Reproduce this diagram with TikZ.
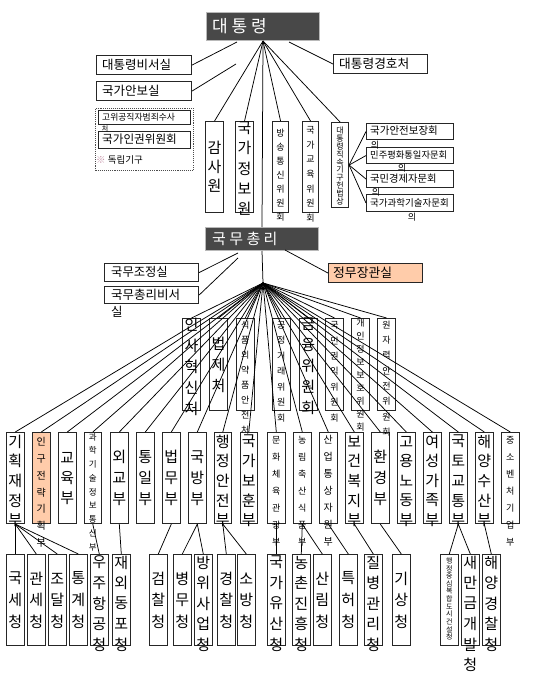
\documentclass[tikz,border=0pt]{standalone}
\usepackage{fontspec}
\setmainfont{Noto Sans CJK KR}
\definecolor{darkbox}{RGB}{72,72,72}
\definecolor{salmon}{RGB}{255,204,170}
\definecolor{refmark}{RGB}{200,150,170}
\newcommand\bx[6][]{\node[box,anchor=north west,minimum width={#5-#3},minimum height={#6-#4},#1] (#2) at (#3,#4) {};}
% top-aligned vertical text: name, style, first offset from top, pitch, list
\newcommand\VT[5]{\foreach \vch [count=\i from 0] in {#5}{\path (#1.north) ++(0,{#3+\i*#4}) node[#2] (#1-t\i) {\vch};}}
% centred vertical text: name, style, pitch, count, list
\newcommand\VC[5]{\foreach \vch [count=\i from 0] in {#5}{\path (#1.center) ++(0,{(\i-(#4-1)/2)*#3}) node[#2] (#1-t\i) {\vch};}}
\begin{document}
\begin{tikzpicture}[x=1pt,y=-1pt,
  box/.style={draw=black!85,line width=1.1pt,inner sep=0pt},
  dark/.style={draw=gray!55,line width=1pt,fill=darkbox},
  conn/.style={draw=black,line width=0.75pt},
  big/.style={font=\fontsize{15}{15}\selectfont,inner sep=0pt},
  sm/.style={font=\fontsize{9}{9}\selectfont,inner sep=0pt},
  fs/.style={font=\fontsize{#1}{#1}\selectfont,inner sep=0pt},
  hl/.style={font=\fontsize{#1}{#1}\selectfont,inner sep=0pt,anchor=west}]
\useasboundingbox[fill=white] (0,0) rectangle (539,695);

% ---------- President level ----------
\bx[dark]{dt}{206}{12}{319}{40}
\node[hl=17,text=white] (dtt) at (212,26) {대 통 령};
\bx{bs}{96}{55}{191}{74}
\node[hl=12.5] (bst) at (102,64.5) {대통령비서실};
\bx{ab}{96}{81}{191}{100}
\node[hl=12.5] (abt) at (102,90.5) {국가안보실};
\bx{gh}{333}{54}{427}{73}
\node[hl=12.7] (ght) at (339,63.5) {대통령경호처};

\bx{gsw}{205}{121}{223}{212}
\bx{gjw}{235}{121}{253}{212}
\bx{bt}{272}{121}{288}{212}
\bx{gg}{302}{121}{318}{212}
\bx{dj}{331}{122}{348}{207}

\bx{c1}{366}{123}{453}{139}
\bx{c2}{366}{147}{453}{163}
\bx{c3}{366}{170}{453}{187}
\bx{c4}{366}{194}{453}{211}

\bx[draw=black!70,densely dotted,line width=1pt]{grp}{95}{108}{193}{170}
\bx{gc}{98}{110}{190}{124}
\bx{ig}{98}{131}{190}{148}

% ---------- Prime minister level ----------
\bx[dark]{nm}{205}{227}{318}{250}
\node[hl=15,text=white] (nmt) at (212,238.5) {국 무 총 리};
\bx{nj}{104}{263}{198}{281}
\bx{nb}{104}{286}{198}{303}
\bx[fill=salmon]{jm}{328}{263}{422}{282}

% middle row
\bx{m1}{182}{318}{200}{410}
\bx{m2}{209}{318}{227}{410}
\bx{m3}{236}{318}{253.5}{410}
\bx{m4}{272}{318}{289.5}{410}
\bx{m5}{298.5}{318}{317}{410}
\bx{m6}{325}{318}{343}{410}
\bx{m7}{351}{318}{369}{410}
\bx{m8}{377}{318}{395}{410}

% lower row (ministries)
\bx{L1}{6}{432}{23.5}{523}
\bx[fill=salmon]{L2}{32}{432}{49.5}{523}
\bx{L3}{58}{432}{75.5}{523}
\bx{L4}{83.5}{432}{101}{523}
\bx{L5}{110}{432}{127.5}{523}
\bx{L6}{136}{432}{153.5}{523}
\bx{L7}{162}{432}{179.5}{523}
\bx{L8}{188}{432}{205.5}{523}
\bx{L9}{213.5}{432}{231}{523}
\bx{L10}{239.5}{432}{257}{523}
\bx{L11}{267}{432}{284.5}{523}
\bx{L12}{293}{432}{310.5}{523}
\bx{L13}{319}{432}{336.5}{523}
\bx{L14}{345}{432}{362.5}{523}
\bx{L15}{371}{432}{388.5}{523}
\bx{L16}{397}{432}{414.5}{523}
\bx{L17}{423}{432}{440.5}{523}
\bx{L18}{449}{432}{466.5}{523}
\bx{L19}{475}{432}{492.5}{523}
\bx{L20}{501}{432}{518.5}{523}

% bottom row (agencies)
\bx{B1}{6}{554}{23.5}{645}
\bx{B2}{27}{554}{44.5}{645}
\bx{B3}{48}{554}{65.5}{645}
\bx{B4}{69}{554}{86.5}{645}
\bx{B5}{90}{554}{107.5}{645}
\bx{B6}{112}{554}{129.5}{645}
\bx{B7}{149}{554}{166.5}{645}
\bx{B8}{173}{554}{190.5}{645}
\bx{B9}{194}{554}{211.5}{645}
\bx{B10}{217}{554}{234.5}{645}
\bx{B11}{237}{554}{254.5}{645}
\bx{B12}{267}{554}{284.5}{645}
\bx{B13}{292}{554}{309.5}{645}
\bx{B14}{313}{554}{330.5}{645}
\bx{B15}{339}{554}{356.5}{645}
\bx{B16}{364}{554}{381.5}{645}
\bx{B17}{392}{554}{409.5}{645}
\bx{B18}{440}{554}{457.5}{645}
\bx{B19}{461}{554}{478.5}{645}
\bx{B20}{482}{554}{499.5}{645}

% ---------- connectors ----------
\coordinate (l1) at (237,42);
\coordinate (l2) at (236,64);
\coordinate (l3) at (289,42);
\draw[conn] (l1) -- (bs.east);
\draw[conn] (l2) -- (ab.east);
\draw[conn] (l3) -- (gh.west);
\foreach \n in {gsw,gjw,bt,gg,dj} \draw[conn] (dt.south) -- (\n.north);
\draw[conn] (dt.south) -- (nm.north);
\foreach \n in {c1,c2,c3,c4} \draw[conn] (dj.east) -- (\n.west);

\coordinate (l4) at (238,253);
\coordinate (l5) at (238,258);
\coordinate (l6) at (285,250);
\coordinate (na) at (263,283);
\draw[conn] (l4) -- (nj.east);
\draw[conn] (l5) -- (nb.east);
\draw[conn] (l6) -- (jm.west);
\draw[conn] (nm.south) -- (na);
\foreach \n in {m1,m2,m3,m4,m5,m6,m7,m8} \draw[conn] (na) -- (\n.north);
\foreach \n in {L1,L2,L3,L4,L5,L6,L7,L8,L9,L10,L11,L12,L13,L14,L15,L16,L17,L18,L19,L20} \draw[conn] (na) -- (\n.north);

\foreach \n in {B1,B2,B3,B4} \draw[conn] (L1.south) -- (\n.north);
\draw[conn] (L4.south) -- (B5.north);
\draw[conn] (L5.south) -- (B6.north);
\draw[conn] (L7.south) -- (B7.north);
\draw[conn] (L8.south) -- (B8.north);
\draw[conn] (L8.south) -- (B9.north);
\draw[conn] (L9.south) -- (B10.north);
\draw[conn] (L9.south) -- (B11.north);
\draw[conn] (L11.south) -- (B12.north);
\draw[conn] (L12.south) -- (B13.north);
\draw[conn] (L12.south) -- (B14.north);
\draw[conn] (L13.south) -- (B15.north);
\draw[conn] (L14.south) -- (B16.north);
\draw[conn] (L15.south) -- (B17.north);
\draw[conn] (L18.south) -- (B18.north);
\draw[conn] (L18.south) -- (B19.north);
\draw[conn] (L19.south) -- (B20.north);

% ---------- texts ----------
\node[hl=10.5] (c1t) at (370,131) {국가안전보장회};
\node[fs=9] (c1u) at (375,145) {의};
\node[hl=9.3] (c2t) at (370,155) {민주평화통일자문회};
\node[fs=9] (c2u) at (402,168.5) {의};
\node[hl=10.3] (c3t) at (370,178.5) {국민경제자문회};
\node[fs=9] (c3u) at (376,192.5) {의};
\node[hl=9.5] (c4t) at (370,202.5) {국가과학기술자문회};
\node[fs=9] (c4u) at (412,217.5) {의};

\node[hl=8.8] (gct) at (102,117) {고위공직자범죄수사};
\node[fs=7] (gcu) at (105,129) {처};
\node[hl=11.6] (igt) at (102,139.5) {국가인권위원회};
\node[hl=9.5] (indt) at (96,160) {\textcolor{refmark}{※} 독립기구};

\node[hl=12.3] (njt) at (111,272) {국무조정실};
\node[hl=12.5] (nbt) at (111,294.5) {국무총리비서};
\node[hl=12.5] (nbu) at (111,312) {실};
\node[hl=12.8] (jmt) at (333,272.5) {정무장관실};

\VC{gsw}{big}{19}{3}{감,사,원}
\VT{gjw}{big}{7}{20.2}{국,가,정,보,원}
\VT{bt}{sm}{12}{14}{방,송,통,신,위,원,회}
\VT{gg}{sm}{9}{14.7}{국,가,교,육,위,원,회}
\VT{dj}{fs=8}{9}{7.8}{대,통,령,직,속,기,구,헌,법,상}

\VT{m1}{big}{7}{21}{인,사,혁,신,처}
\VC{m2}{big}{21}{3}{법,제,처}
\VT{m3}{sm}{7}{15}{식,품,의,약,품,안,전,처}
\VT{m4}{sm}{7}{15.5}{공,정,거,래,위,원,회}
\VT{m5}{big}{6}{21}{금,융,위,원,회}
\VT{m6}{sm}{7}{15.5}{국,민,권,익,위,원,회}
\VT{m7}{sm}{5}{13}{개,인,정,보,보,호,위,원,회}
\VT{m8}{sm}{7}{15.3}{원,자,력,안,전,위,원,회}

\VT{L1}{big}{9.5}{19.7}{기,획,재,정,부}
\VT{L2}{fs=10}{10}{16.8}{인,구,전,략,기,획,부}
\VC{L3}{big}{20}{3}{교,육,부}
\VT{L4}{fs=8.5}{5}{13.75}{과,학,기,술,정,보,통,신,부}
\VC{L5}{big}{21}{3}{외,교,부}
\VC{L6}{big}{21}{3}{통,일,부}
\VC{L7}{big}{21}{3}{법,무,부}
\VC{L8}{big}{21}{3}{국,방,부}
\VT{L9}{big}{9.5}{19.7}{행,정,안,전,부}
\VT{L10}{big}{9.5}{19.7}{국,가,보,훈,부}
\VT{L11}{sm}{8}{17}{문,화,체,육,관,광,부}
\VT{L12}{sm}{8}{17}{농,림,축,산,식,품,부}
\VT{L13}{fs=10}{8}{17}{산,업,통,상,자,원,부}
\VT{L14}{big}{9.5}{19.7}{보,건,복,지,부}
\VC{L15}{big}{21}{3}{환,경,부}
\VT{L16}{big}{9.5}{19.7}{고,용,노,동,부}
\VT{L17}{big}{9.5}{19.7}{여,성,가,족,부}
\VT{L18}{big}{9.5}{19.7}{국,토,교,통,부}
\VT{L19}{big}{9.5}{19.7}{해,양,수,산,부}
\VT{L20}{sm}{8}{17}{중,소,벤,처,기,업,부}

\VC{B1}{big}{21.5}{3}{국,세,청}
\VC{B2}{big}{21.5}{3}{관,세,청}
\VC{B3}{big}{21.5}{3}{조,달,청}
\VC{B4}{big}{21.5}{3}{통,계,청}
\VT{B5}{big}{8.5}{20.5}{우,주,항,공,청}
\VT{B6}{big}{8.5}{20.5}{재,외,동,포,청}
\VC{B7}{big}{21.5}{3}{검,찰,청}
\VC{B8}{big}{21.5}{3}{병,무,청}
\VT{B9}{big}{8.5}{20.5}{방,위,사,업,청}
\VC{B10}{big}{21.5}{3}{경,찰,청}
\VC{B11}{big}{21.5}{3}{소,방,청}
\VT{B12}{big}{8.5}{20.5}{국,가,유,산,청}
\VT{B13}{big}{8.5}{20.5}{농,촌,진,흥,청}
\VC{B14}{big}{21.5}{3}{산,림,청}
\VC{B15}{big}{21.5}{3}{특,허,청}
\VT{B16}{big}{8.5}{20.5}{질,병,관,리,청}
\VC{B17}{big}{21.5}{3}{기,상,청}
\VT{B18}{fs=7}{7}{7.6}{행,정,중,심,복,합,도,시,건,설,청}
\VT{B19}{big}{8.5}{20.5}{새,만,금,개,발,청}
\VT{B20}{big}{8.5}{20.5}{해,양,경,찰,청}
\end{tikzpicture}
\end{document}
